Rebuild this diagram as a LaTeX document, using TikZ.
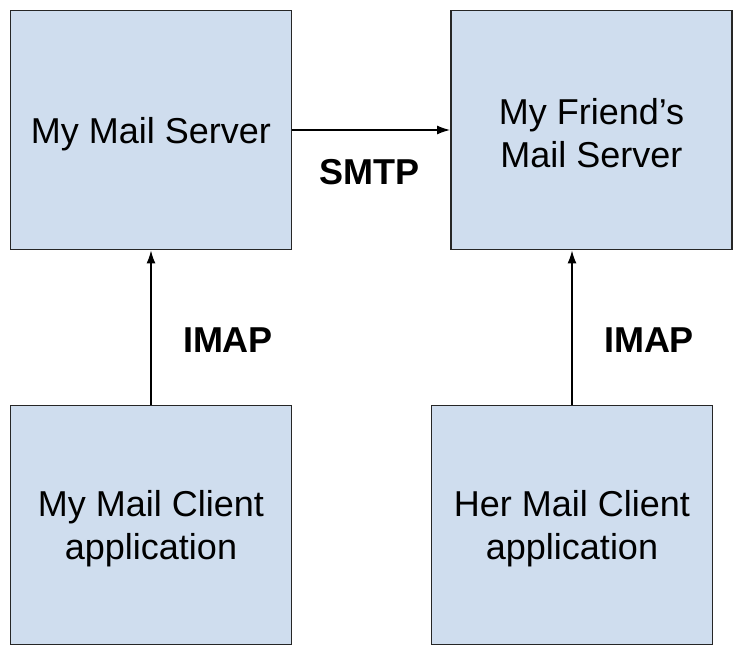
\documentclass[tikz,border=0pt]{standalone}
\usepackage{fontspec}
\setmainfont{Liberation Sans}
\usetikzlibrary{arrows.meta}
\definecolor{boxfill}{RGB}{207,221,238}
\tikzset{
  mailbox/.style={draw=black!85,line width=1.8pt,fill=boxfill,minimum width=281pt,minimum height=239pt,inner sep=0pt,text depth=0pt,align=center,font=\fontsize{36}{43}\selectfont},
  proto/.style={font=\fontsize{36}{43}\selectfont\bfseries},
  link/.style={line width=1.5pt,-{Latex[length=13pt,width=9pt]}}
}
\begin{document}
\begin{tikzpicture}[x=1pt,y=1pt]
            \useasboundingbox (0,0) rectangle (746,658);
            \node[mailbox] (srv) at (151,528) {My Mail Server};
            \node[mailbox,text height=75pt] (fsrv) at (591.5,528) {My Friend’s\\Mail Server};
            \node[mailbox] (cli) at (151,133) {My Mail Client\\application};
            \node[mailbox] (hcli) at (572,133) {Her Mail Client\\application};
            \draw[link] (srv.east) -- (fsrv.west);
            \draw[link] (cli.north) -- (srv.south);
            \draw[link] (hcli.north) -- (hcli.north |- fsrv.south);
            \path   (369,486) node[proto] (smtp) {SMTP}
                    (228,318) node[proto] (imapl) {IMAP}
                    (649,318) node[proto] (imapr) {IMAP};
        \end{tikzpicture}
\end{document}
